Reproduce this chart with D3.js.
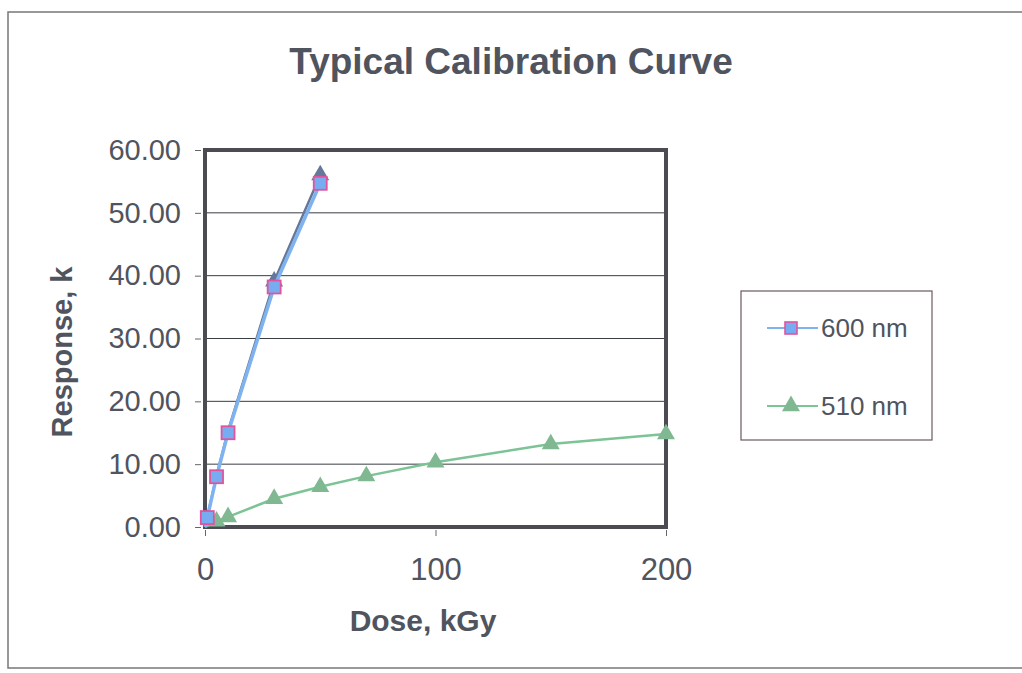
<!DOCTYPE html>
<html><head><meta charset="utf-8">
<script src="https://cdn.jsdelivr.net/npm/d3@7/dist/d3.min.js"></script>
<style>body{margin:0;background:#fff}svg{display:block}text{font-family:"Liberation Sans",Arial,sans-serif}</style>
</head><body>
<svg id="c" width="1022" height="673"></svg>
<script>
const dose600 = [1, 5, 10, 30, 50];
const resp600 = [1.5, 8.0, 15.0, 38.2, 54.7];
const resp600b = [1.6, 8.2, 15.3, 39.1, 56.0];
const dose510 = [5, 10, 30, 50, 70, 100, 150, 200];
const resp510 = [0.9, 1.6, 4.5, 6.4, 8.1, 10.3, 13.2, 14.8];
const xTicks = [0, 100, 200];
const yTicks = [0, 10, 20, 30, 40, 50, 60];
const seriesNames = ["600 nm", "510 nm"];

const svg = d3.select("#c");
const ink = "#50545e";
svg.append("rect").attr("x",8).attr("y",12).attr("width",1030).attr("height",656)
  .attr("fill","none").attr("stroke","#777").attr("stroke-width",1.5);

svg.append("text").attr("x",511).attr("y",74).attr("text-anchor","middle")
  .attr("font-size",37).attr("font-weight","bold").attr("fill",ink).text("Typical Calibration Curve");

const L=205,R=666,T=150,B=527;
const x=d3.scaleLinear().domain([0,200]).range([L,R]);
const y=d3.scaleLinear().domain([0,60]).range([B,T]);

// gridlines
svg.append("g").selectAll("line").data(yTicks.filter(v=>v>0&&v<60)).join("line")
  .attr("x1",L).attr("x2",R).attr("y1",d=>y(d)).attr("y2",d=>y(d))
  .attr("stroke","#3a3d44").attr("stroke-width",1);

// axes
const ya=svg.append("g").attr("transform",`translate(${L-4},0)`)
  .call(d3.axisLeft(y).tickValues(yTicks).tickFormat(d3.format(".2f")).tickSize(6).tickPadding(14));
ya.select(".domain").remove();
ya.selectAll("line").attr("stroke","#666");
ya.selectAll("text").attr("font-size",29).attr("fill",ink).attr("font-family","Liberation Sans, Arial, sans-serif");
const xa=svg.append("g").attr("transform",`translate(0,${B+3})`)
  .call(d3.axisBottom(x).tickValues(xTicks).tickSize(6).tickPadding(22));
xa.select(".domain").remove();
xa.selectAll("line").attr("stroke","#666");
xa.selectAll("text").attr("font-size",31).attr("fill",ink).attr("font-family","Liberation Sans, Arial, sans-serif");

// frame
svg.append("rect").attr("x",L).attr("y",T).attr("width",R-L).attr("height",B-T)
  .attr("fill","none").attr("stroke","#4a4c52").attr("stroke-width",4);

svg.append("text").attr("transform","translate(72,352) rotate(-90)").attr("text-anchor","middle")
  .attr("font-size",29).attr("font-weight","bold").attr("fill",ink).text("Response, k");
svg.append("text").attr("x",423).attr("y",631).attr("text-anchor","middle")
  .attr("font-size",30).attr("font-weight","bold").attr("fill",ink).text("Dose, kGy");

const line=d3.line().x(d=>x(d[0])).y(d=>y(d[1]));
const tri=d3.symbol().type(d3.symbolTriangle).size(140);

// underlying series (no legend)
const dB=dose600.map((d,i)=>[d,resp600b[i]]);
svg.append("path").attr("d",line(dB)).attr("fill","none").attr("stroke","#65789a").attr("stroke-width",2.5);
svg.append("g").selectAll("path").data(dB.slice(3)).join("path")
  .attr("d",tri).attr("transform",d=>`translate(${x(d[0])},${y(d[1])})`).attr("fill","#65789a");

// 510
const d510=dose510.map((d,i)=>[d,resp510[i]]);
svg.append("path").attr("d",line([[0,0],...d510])).attr("fill","none").attr("stroke","#7cc396").attr("stroke-width",2.5);
svg.append("g").selectAll("path").data(d510).join("path")
  .attr("d",tri).attr("transform",d=>`translate(${x(d[0])},${y(d[1])})`).attr("fill","#80b991");

// 600
const d600=dose600.map((d,i)=>[d,resp600[i]]);
svg.append("path").attr("d",line([[0,0],...d600])).attr("fill","none").attr("stroke","#7fb3f0").attr("stroke-width",3.5);
svg.append("g").selectAll("rect").data(d600).join("rect")
  .attr("x",d=>x(d[0])-6.5).attr("y",d=>y(d[1])-6.5).attr("width",13).attr("height",13)
  .attr("fill","#78acf0").attr("stroke","#e0549e").attr("stroke-width",1.8);

// legend
svg.append("rect").attr("x",741).attr("y",291).attr("width",191).attr("height",149)
  .attr("fill","#fff").attr("stroke","#6b5a5e").attr("stroke-width",1.2);
const lg=svg.append("g");
const ly=[328,406];
lg.append("line").attr("x1",767).attr("x2",818).attr("y1",ly[0]).attr("y2",ly[0]).attr("stroke","#7fb3f0").attr("stroke-width",2);
lg.append("rect").attr("x",785).attr("y",ly[0]-6).attr("width",12).attr("height",12).attr("fill","#78acf0").attr("stroke","#e0549e").attr("stroke-width",1.6);
lg.append("line").attr("x1",767).attr("x2",818).attr("y1",ly[1]).attr("y2",ly[1]).attr("stroke","#7cc396").attr("stroke-width",2);
lg.append("path").attr("d",tri).attr("transform",`translate(791,${ly[1]})`).attr("fill","#80b991");
lg.selectAll("text").data(seriesNames).join("text").attr("x",821).attr("y",(d,i)=>ly[i]+9)
  .attr("font-size",26).attr("fill",ink).text(d=>d);
</script>
</body></html>
